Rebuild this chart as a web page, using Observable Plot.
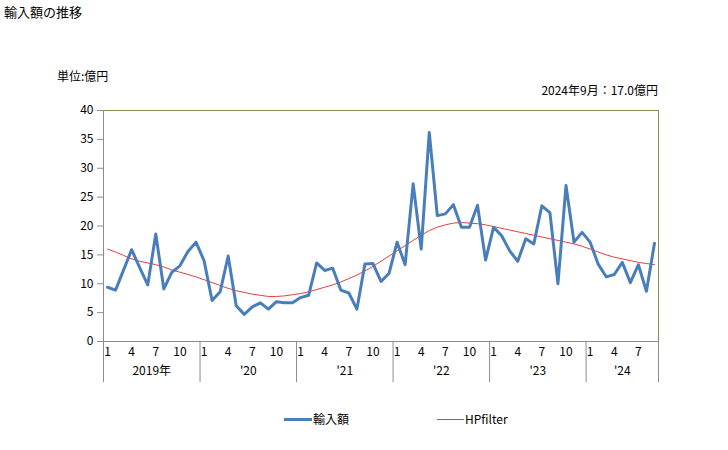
<!DOCTYPE html>
<html><head><meta charset="utf-8">
<script src="https://cdn.jsdelivr.net/npm/d3@7"></script>
<script src="https://cdn.jsdelivr.net/npm/@observablehq/plot@0.6"></script>
<style>
body{margin:0;background:#fff;font-family:"Noto Sans CJK JP",sans-serif;}
#wrap{position:relative;width:728px;height:450px;overflow:hidden;}
#wrap svg{position:absolute;left:0;top:0;}
.t{position:absolute;font-size:12px;line-height:1;color:#000;white-space:nowrap;}
.sw{position:absolute;}
</style></head><body><div id="wrap"></div>
<script>
const years = ["2019年", "'20", "'21", "'22", "'23", "'24"];
const monthsInYear = [12, 12, 12, 12, 12, 9];
const imports = [
  9.4, 8.9, 12.4, 15.9, 12.8, 9.8, 18.6, 9.1, 12.0, 13.1, 15.6, 17.2,
  14.0, 7.1, 8.6, 14.8, 6.2, 4.7, 6.0, 6.7, 5.6, 6.9, 6.7, 6.7,
  7.6, 8.0, 13.6, 12.3, 12.7, 8.9, 8.4, 5.6, 13.4, 13.5, 10.4, 11.8,
  17.2, 13.3, 27.3, 16.0, 36.2, 21.8, 22.1, 23.7, 19.8, 19.8, 23.6, 14.1,
  19.8, 18.3, 15.7, 13.9, 17.8, 16.9, 23.5, 22.3, 10.0, 27.0, 17.2, 18.9,
  17.2, 13.4, 11.2, 11.6, 13.7, 10.2, 13.3, 8.7, 17.0
];
const hpFilter = [
  16.0, 15.5, 14.9, 14.3, 13.9, 13.6, 13.3, 12.9, 12.4, 12.0, 11.6, 11.2,
  10.7, 10.2, 9.7, 9.2, 8.8, 8.5, 8.2, 8.0, 7.8, 7.8, 7.9, 8.1,
  8.3, 8.6, 9.0, 9.4, 9.8, 10.3, 10.9, 11.5, 12.2, 13.0, 13.9, 14.8,
  15.7, 16.6, 17.5, 18.4, 19.2, 19.8, 20.2, 20.5, 20.6, 20.5, 20.4, 20.2,
  19.9, 19.6, 19.3, 19.0, 18.7, 18.4, 18.1, 17.8, 17.5, 17.2, 16.9, 16.5,
  16.0, 15.5, 15.0, 14.6, 14.3, 14.0, 13.7, 13.5, 13.3
];
const yTicks = [0, 5, 10, 15, 20, 25, 30, 35, 40];
const monthTicks = [1, 4, 7, 10];
const seriesNames = ["輸入額", "HPfilter"];
const titleText = "輸入額の推移";
const unitText = "単位:億円";
const latestText = "2024年9月：17.0億円";

// build table
const rows = [];
let idx = 0;
years.forEach((yr, yi) => {
  for (let m = 1; m <= monthsInYear[yi]; m++) {
    rows.push({i: idx, year: yi, month: m, value: imports[idx], hp: hpFilter[idx]});
    idx++;
  }
});
const n = rows.length;
const yearInfo = [];
let start = 0;
years.forEach((yr, yi) => {
  yearInfo.push({label: yr, center: start + (monthsInYear[yi] - 1) / 2, start: start - 0.5});
  start += monthsInYear[yi];
});
const dividers = yearInfo.map(d => d.start).concat([n - 0.5]);

const blue = "#4a7ebb", red = "#e0403c", grey = "#8c8c8c", olive = "#8f8a4c";
const font = "'Noto Sans CJK JP', sans-serif";

const chart = Plot.plot({
  width: 728, height: 450,
  marginLeft: 103, marginRight: 70, marginTop: 110, marginBottom: 109,
  style: {fontFamily: font, fontSize: "11px", background: "transparent"},
  x: {domain: [-0.5, n - 0.5], axis: null},
  y: {domain: [0, 40], axis: null},
  marks: [
    Plot.ruleY([40], {stroke: olive, strokeWidth: 1}),
    Plot.ruleX([n - 0.5], {y1: 0, y2: 40, stroke: olive, strokeWidth: 1}),
    Plot.ruleY([0], {stroke: grey, strokeWidth: 1}),
    Plot.ruleX([-0.5], {y1: 0, y2: 40, stroke: grey, strokeWidth: 1}),
    Plot.axisY({ticks: yTicks, tickSize: 6, tickPadding: 4, stroke: grey, fill: "#000", fontSize: 12, anchor: "left"}),
    Plot.ruleX(dividers, {y1: 0, y2: -7.1, stroke: grey, strokeWidth: 1}),
    Plot.text(rows.filter(d => monthTicks.includes(d.month)), {x: "i", y: 0, text: d => String(d.month), dy: 11, fontSize: 12, fill: "#000"}),
    Plot.text(yearInfo, {x: "center", y: 0, text: "label", dy: 30, fontSize: 12, fill: "#000"}),
    Plot.line(rows, {x: "i", y: "hp", stroke: red, strokeWidth: 1}),
    Plot.line(rows, {x: "i", y: "value", stroke: blue, strokeWidth: 3, strokeLinejoin: "round"})
  ]
});
const wrap = document.getElementById("wrap");
wrap.appendChild(chart);

function addText(txt, left, top, extra) {
  const d = document.createElement("div");
  d.className = "t";
  d.textContent = txt;
  d.style.left = left + "px";
  d.style.top = top + "px";
  if (extra) Object.assign(d.style, extra);
  wrap.appendChild(d);
  return d;
}
addText(titleText, 4, 5, {fontSize: "13px"});
addText(unitText, 57, 70);
addText(latestText, 0, 84, {left: "auto", right: (728 - 658) + "px"});

function addSwatch(left, top, w, h, color) {
  const s = document.createElement("div");
  s.className = "sw";
  Object.assign(s.style, {left: left + "px", top: top + "px", width: w + "px", height: h + "px", background: color});
  wrap.appendChild(s);
}
addSwatch(284, 418, 28, 3, blue);
addText(seriesNames[0], 313, 413);
addSwatch(437, 419, 27, 1, red);
addText(seriesNames[1], 465, 413);
</script>
</body></html>
